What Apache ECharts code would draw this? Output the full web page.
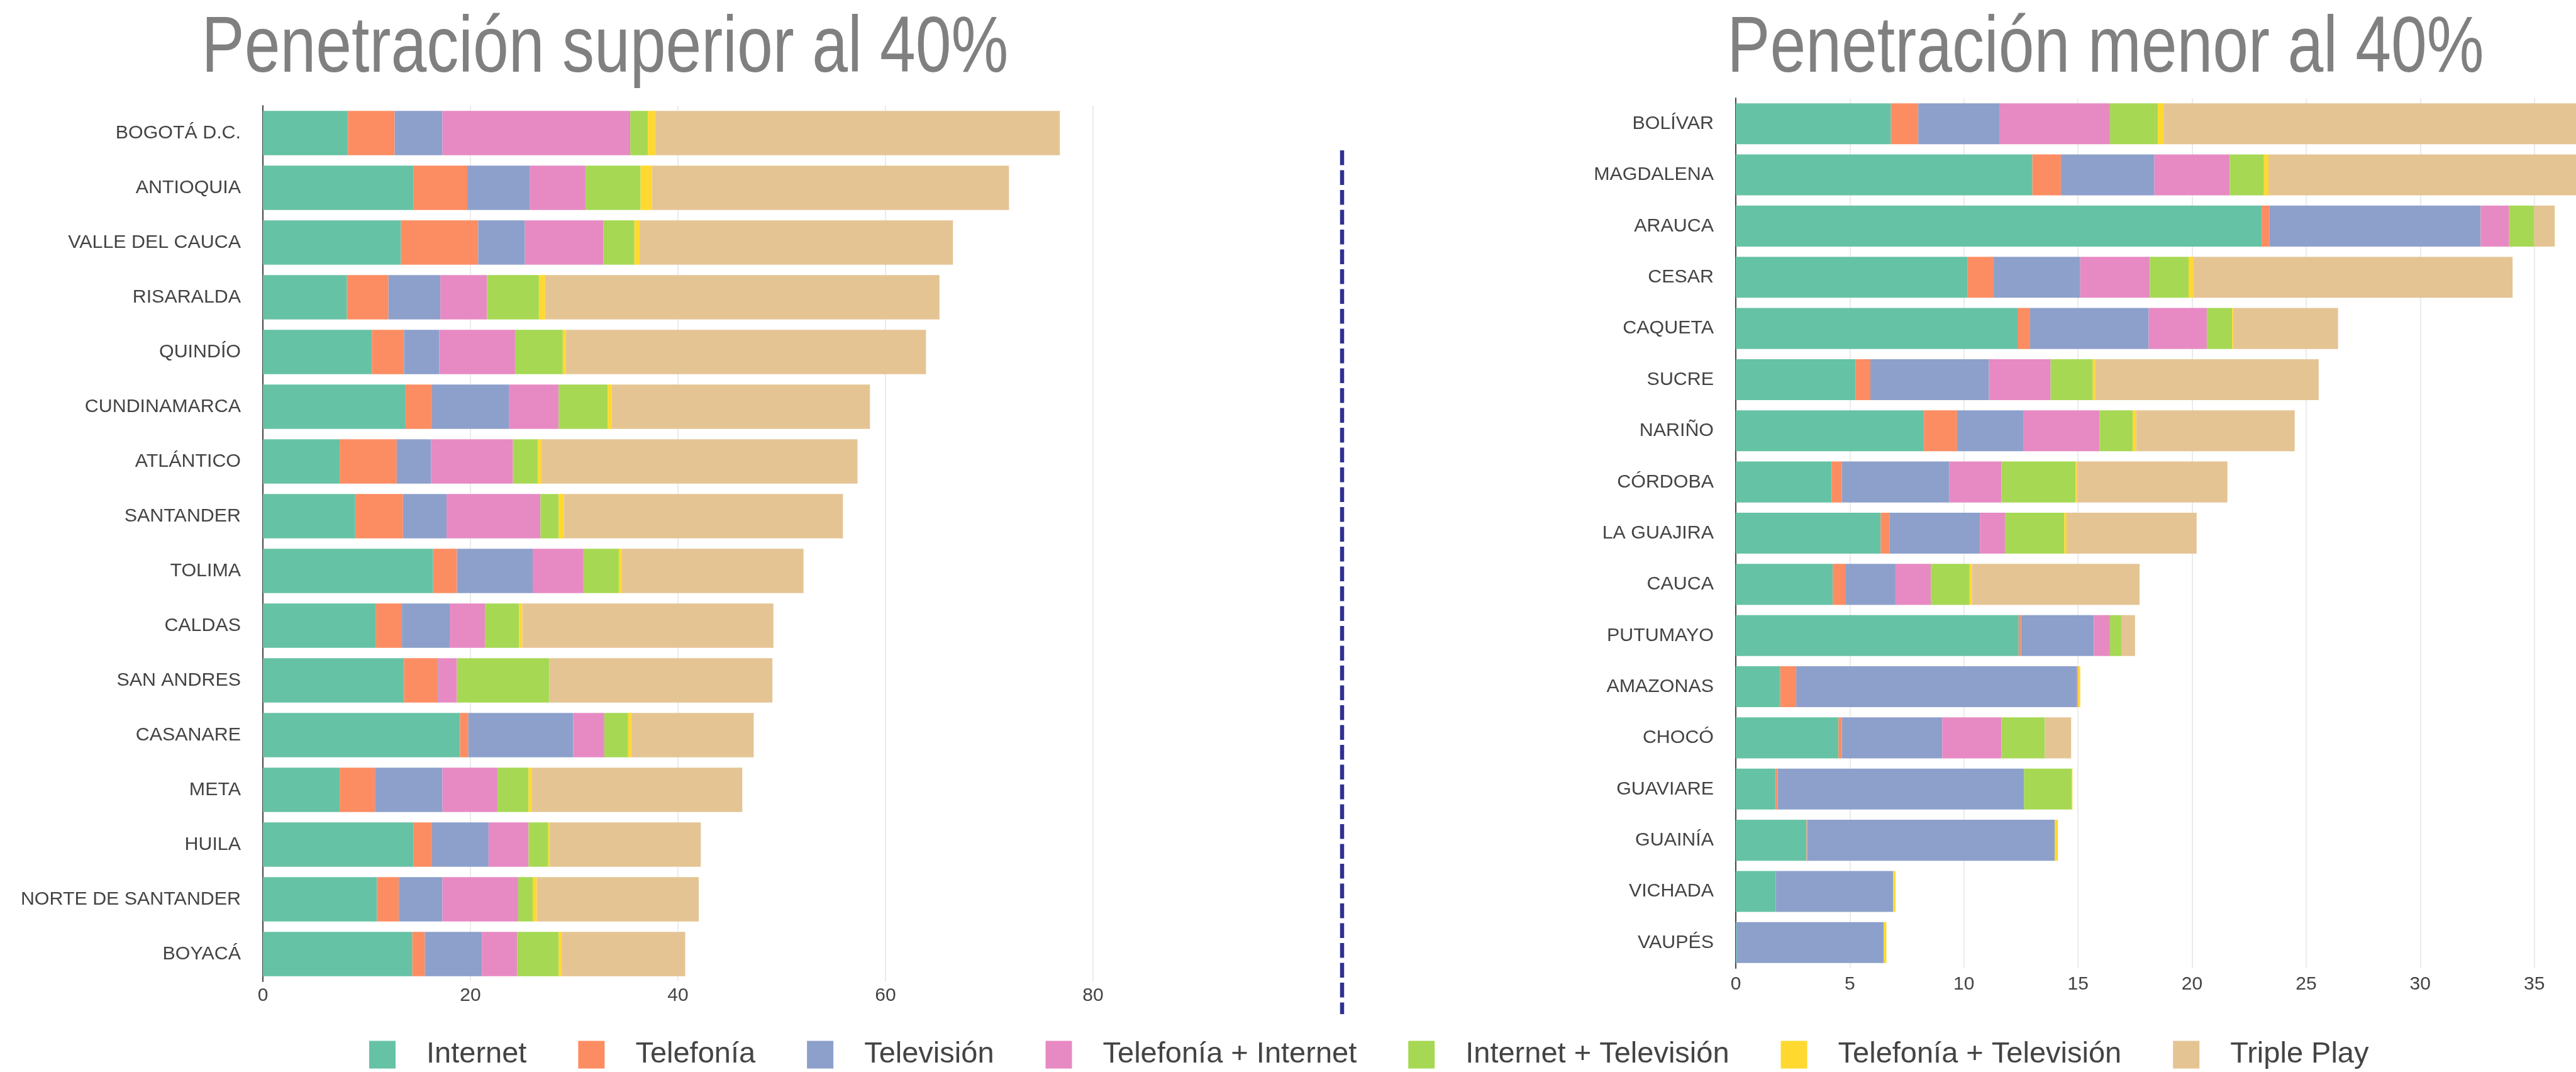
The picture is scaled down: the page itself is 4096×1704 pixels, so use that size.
<!DOCTYPE html>
<html>
<head>
<meta charset="utf-8">
<script src="https://cdn.jsdelivr.net/npm/echarts@6/dist/echarts.min.js"></script>
<style>
  html, body { margin: 0; padding: 0; background: #fff; }
  #chart { width: 4096px; height: 1704px; }
</style>
</head>
<body>
<div id="chart"></div>
<script>
// series names and colours
const seriesNames = ['Internet', 'Telefonía', 'Televisión', 'Telefonía + Internet',
    'Internet + Televisión', 'Telefonía + Televisión', 'Triple Play'];
const colors = ['#66c2a5', '#fc8d62', '#8da0cb', '#e78ac3', '#a6d854', '#ffd92f', '#e5c494'];

// left panel: penetración superior al 40%
const leftCategories = ['BOGOTÁ D.C.', 'ANTIOQUIA', 'VALLE DEL CAUCA', 'RISARALDA', 'QUINDÍO',
    'CUNDINAMARCA', 'ATLÁNTICO', 'SANTANDER', 'TOLIMA', 'CALDAS', 'SAN ANDRES', 'CASANARE',
    'META', 'HUILA', 'NORTE DE SANTANDER', 'BOYACÁ'];
const leftInternet   = [8.2, 14.5, 13.3, 8.1, 10.5, 13.75, 7.4, 8.9, 16.4, 10.9, 13.6, 19.0, 7.4, 14.5, 11.0, 14.4];
const leftTelefonia  = [4.5, 5.2, 7.45, 4.0, 3.1, 2.55, 5.5, 4.6, 2.3, 2.5, 3.2, 0.8, 3.4, 1.8, 2.1, 1.2];
const leftTelevision = [4.6, 6.0, 4.5, 5.0, 3.4, 7.4, 3.3, 4.2, 7.3, 4.6, 0.1, 10.1, 6.5, 5.45, 4.2, 5.5];
const leftTelInt     = [18.1, 5.4, 7.55, 4.5, 7.3, 4.8, 7.9, 9.05, 4.9, 3.4, 1.8, 3.0, 5.3, 3.85, 7.3, 3.4];
const leftIntTv      = [1.7, 5.3, 3.0, 5.0, 4.6, 4.75, 2.4, 1.75, 3.4, 3.3, 8.9, 2.3, 3.0, 1.9, 1.4, 4.0];
const leftTelTv      = [0.7, 1.1, 0.5, 0.6, 0.3, 0.35, 0.3, 0.5, 0.3, 0.3, 0, 0.3, 0.3, 0.1, 0.4, 0.3];
const leftTriple     = [39.0, 34.4, 30.2, 38.0, 34.7, 24.9, 30.5, 26.9, 17.5, 24.2, 21.5, 11.8, 20.3, 14.6, 15.6, 11.9];

// right panel: penetración menor al 40%
const rightCategories = ['BOLÍVAR', 'MAGDALENA', 'ARAUCA', 'CESAR', 'CAQUETA', 'SUCRE', 'NARIÑO',
    'CÓRDOBA', 'LA GUAJIRA', 'CAUCA', 'PUTUMAYO', 'AMAZONAS', 'CHOCÓ', 'GUAVIARE', 'GUAINÍA',
    'VICHADA', 'VAUPÉS'];
const rightInternet   = [6.8, 13.0, 23.05, 10.15, 12.35, 5.25, 8.25, 4.2, 6.35, 4.25, 12.4, 1.95, 4.5, 1.75, 3.1, 1.75, 0.03];
const rightTelefonia  = [1.2, 1.25, 0.35, 1.15, 0.55, 0.65, 1.45, 0.45, 0.4, 0.55, 0.1, 0.7, 0.15, 0.08, 0.03, 0, 0];
const rightTelevision = [3.55, 4.1, 9.25, 3.8, 5.2, 5.2, 2.9, 4.7, 3.95, 2.2, 3.2, 12.3, 4.4, 10.8, 10.85, 5.15, 6.45];
const rightTelInt     = [4.85, 3.3, 1.25, 3.05, 2.55, 2.7, 3.35, 2.3, 1.1, 1.55, 0.7, 0.05, 2.6, 0, 0, 0, 0];
const rightIntTv      = [2.1, 1.5, 1.1, 1.7, 1.1, 1.85, 1.45, 3.25, 2.6, 1.7, 0.5, 0, 1.9, 2.1, 0, 0, 0];
const rightTelTv      = [0.25, 0.2, 0, 0.2, 0.05, 0.1, 0.15, 0.05, 0.1, 0.1, 0, 0.1, 0, 0.03, 0.14, 0.1, 0.12];
const rightTriple     = [20.7, 14.6, 0.9, 14.0, 4.6, 9.8, 6.95, 6.6, 5.7, 7.35, 0.6, 0, 1.15, 0, 0, 0, 0];

const leftTicks = [0, 20, 40, 60, 80];
const rightTicks = [0, 5, 10, 15, 20, 25, 30, 35, 40];

const leftData = [leftInternet, leftTelefonia, leftTelevision, leftTelInt, leftIntTv, leftTelTv, leftTriple];
const rightData = [rightInternet, rightTelefonia, rightTelevision, rightTelInt, rightIntTv, rightTelTv, rightTriple];

const FONT = 'Liberation Sans, Arial, sans-serif';
const chart = echarts.init(document.getElementById('chart'));

const valueAxis = (gridIndex, ticks, margin) => ({
    type: 'value',
    gridIndex: gridIndex,
    min: ticks[0],
    max: ticks[ticks.length - 1],
    interval: ticks[1] - ticks[0],
    axisLine: {show: false},
    axisTick: {show: false},
    axisLabel: {color: '#444', fontSize: 30, fontFamily: FONT, margin: margin},
    splitLine: {lineStyle: {color: '#ebebeb', width: 2}}
});

const categoryAxis = (gridIndex, cats) => ({
    type: 'category',
    gridIndex: gridIndex,
    data: cats,
    inverse: true,
    axisLine: {lineStyle: {color: '#444', width: 2}},
    axisTick: {show: false},
    axisLabel: {color: '#444', fontSize: 30.4, fontFamily: FONT, margin: 35}
});

const series = [];
seriesNames.forEach((name, i) => {
    series.push({
        name: name, type: 'bar', stack: 'left', xAxisIndex: 0, yAxisIndex: 0,
        barCategoryGap: '18.8%', itemStyle: {color: colors[i]}, data: leftData[i]
    });
    series.push({
        name: name, type: 'bar', stack: 'right', xAxisIndex: 1, yAxisIndex: 1,
        barCategoryGap: '20%', itemStyle: {color: colors[i]}, data: rightData[i]
    });
});

chart.setOption({
    animation: false,
    color: colors,
    grid: [
        {left: 418, top: 168, width: 1320, height: 1392, outerBoundsMode: 'none', containLabel: false},
        {left: 2760, top: 156, width: 1451, height: 1383, outerBoundsMode: 'none', containLabel: false}
    ],
    xAxis: [valueAxis(0, leftTicks, 8), valueAxis(1, rightTicks, 11)],
    yAxis: [categoryAxis(0, leftCategories), categoryAxis(1, rightCategories)],
    legend: {
        data: seriesNames,
        left: 582,
        top: 1648,
        itemWidth: 42,
        itemHeight: 44,
        itemGap: 82,
        icon: 'rect',
        textStyle: {color: '#444', fontSize: 47, fontFamily: FONT, padding: [0, 0, 0, 44]}
    },
    graphic: [
        {
            type: 'text', x: 962, y: 79, scaleX: 0.813,
            style: {text: 'Penetración superior al 40%', x: 0, y: 0, fill: '#808080',
                font: '125.6px ' + FONT, textAlign: 'center', textVerticalAlign: 'middle'}
        },
        {
            type: 'text', x: 3348, y: 79, scaleX: 0.813,
            style: {text: 'Penetración menor al 40%', x: 0, y: 0, fill: '#808080',
                font: '125.6px ' + FONT, textAlign: 'center', textVerticalAlign: 'middle'}
        },
        {
            type: 'line',
            shape: {x1: 2134, y1: 239, x2: 2134, y2: 1612},
            style: {stroke: '#2e3192', lineWidth: 6.5, lineDash: [23.5, 8]}
        }
    ],
    series: series
});
</script>
</body>
</html>
